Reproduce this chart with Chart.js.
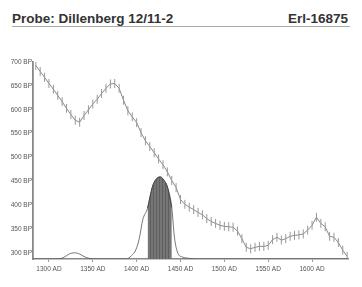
<!DOCTYPE html>
<html>
<head>
<meta charset="utf-8">
<script src="https://cdn.jsdelivr.net/npm/chart.js@4/dist/chart.umd.min.js"></script>
<style>
  body { margin: 0; background: #fff; }
  #wrap { position: relative; width: 362px; height: 287px; }
  #titel {
    position: absolute; left: 12px; top: 11px; width: 336px; padding-right: 2px;
    display: flex; justify-content: space-between;
    font: bold 13.5px "Liberation Sans", Arial, sans-serif; line-height: 15px;
    color: #333; border-bottom: 1px solid #aaa;
  }
  #grafico { position: absolute; left: 0; top: 0; }
</style>
</head>
<body>
<div id="wrap">
  <div id="titel"><span>Probe: Dillenberg 12/11-2</span><span>Erl-16875</span></div>
  <canvas id="grafico" width="362" height="287"></canvas>
</div>
<script>
// Kalibrationskurve (BP) alle 5 Jahre
const kurveJahre = [1285, 1290, 1295, 1300, 1305, 1310, 1315, 1320, 1325, 1330, 1335, 1340, 1345, 1350,
  1355, 1360, 1365, 1370, 1375, 1380, 1385, 1390, 1395, 1400, 1405, 1410, 1415, 1420, 1425, 1430,
  1435, 1440, 1445, 1450, 1455, 1460, 1465, 1470, 1475, 1480, 1485, 1490, 1495, 1500, 1505, 1510,
  1515, 1520, 1525, 1530, 1535, 1540, 1545, 1550, 1555, 1560, 1565, 1570, 1575, 1580, 1585, 1590,
  1595, 1600, 1605, 1610, 1615, 1620, 1625, 1630, 1635, 1640];
const kurveBP = [693, 680, 668, 655, 643, 630, 617, 603, 590, 578, 574, 588, 600, 612,
  622, 634, 645, 654, 655, 645, 620, 598, 585, 573, 552, 535, 523, 510, 497, 485,
  470, 452, 437, 412, 402, 396, 391, 385, 380, 372, 366, 362, 358, 356, 355, 354,
  346, 330, 312, 309, 312, 314, 314, 316, 328, 333, 327, 330, 335, 337, 338, 340,
  348, 358, 375, 362, 355, 335, 333, 322, 306, 293];

// Wahrscheinlichkeitsverteilung (relativ)
const wahrJahre = [1282, 1310, 1315, 1320, 1325, 1330, 1335, 1340, 1345, 1350, 1388, 1394, 1399,
  1403, 1407, 1412.5, 1418, 1422, 1427, 1431, 1435, 1440, 1443, 1447, 1452, 1460, 1468, 1641];
const wahrWerte = [0, 0, 0.01, 0.04, 0.07, 0.075, 0.06, 0.03, 0.01, 0, 0, 0.04, 0.11,
  0.25, 0.48, 0.62, 0.88, 0.97, 1.0, 0.96, 0.88, 0.63, 0.27, 0.07, 0.025, 0.008, 0, 0];

// markierter Bereich
const bereichStart = 1412.5;
const bereichEnde = 1440;

const xTicks = [1300, 1350, 1400, 1450, 1500, 1550, 1600];
const yTicks = [300, 350, 400, 450, 500, 550, 600, 650, 700];

const kurve = kurveJahre.map((j, i) => ({ x: j, y: kurveBP[i] }));
const wahr = wahrJahre.map((j, i) => ({ x: j, y: wahrWerte[i] }));
const bereich = wahr.filter((p) => p.x >= bereichStart && p.x <= bereichEnde);

// Schraffur fuer den Bereich
const muster = document.createElement("canvas");
muster.width = 3;
muster.height = 1;
const mctx = muster.getContext("2d");
mctx.fillStyle = "#767676";
mctx.fillRect(0, 0, 3, 1);
mctx.fillStyle = "#5e5e5e";
mctx.fillRect(0, 0, 1, 1);
const ctx = document.getElementById("grafico").getContext("2d");
const schraffur = ctx.createPattern(muster, "repeat");

const schrift = { family: "'Liberation Sans', Arial, sans-serif", size: 6.5 };

new Chart(ctx, {
  type: "line",
  data: {
    datasets: [
      {
        data: bereich,
        yAxisID: "yP",
        borderColor: "#444",
        borderWidth: 1,
        backgroundColor: schraffur,
        fill: "origin",
        pointRadius: 0,
        cubicInterpolationMode: "monotone",
      },
      {
        data: wahr,
        yAxisID: "yP",
        borderColor: "#555",
        borderWidth: 0.8,
        fill: false,
        pointRadius: 0,
        cubicInterpolationMode: "monotone",
      },
      {
        data: kurve,
        yAxisID: "y",
        borderColor: "#8a8a8a",
        borderWidth: 1,
        fill: false,
        pointStyle: "line",
        rotation: 90,
        pointRadius: 4.5,
        pointBorderWidth: 1,
        pointBorderColor: "#999",
        tension: 0,
      },
    ],
  },
  options: {
    responsive: false,
    animation: false,
    layout: { padding: { left: 0, right: 14, top: 62, bottom: 0 } },
    plugins: { legend: { display: false }, tooltip: { enabled: false } },
    scales: {
      x: {
        type: "linear",
        min: 1281.8,
        max: 1641,
        afterBuildTicks: (s) => { s.ticks = xTicks.map((v) => ({ value: v })); },
        afterFit: (s) => { s.height = 28; },
        border: { color: "#888", width: 1.5 },
        grid: { drawOnChartArea: false, tickLength: 3, color: "#999" },
        ticks: { font: schrift, color: "#555", padding: 3, maxRotation: 0, callback: (v) => v + " AD" },
      },
      y: {
        min: 287.5,
        max: 700,
        afterBuildTicks: (s) => { s.ticks = yTicks.map((v) => ({ value: v })); },
        afterFit: (s) => { s.width = 33; },
        border: { color: "#888", width: 1.8 },
        grid: { drawOnChartArea: false, tickLength: 1, color: "#999" },
        ticks: { font: schrift, color: "#555", padding: 0, callback: (v) => v + " BP" },
      },
      yP: { display: false, min: 0, max: 2.4 },
    },
  },
});
</script>
</body>
</html>
